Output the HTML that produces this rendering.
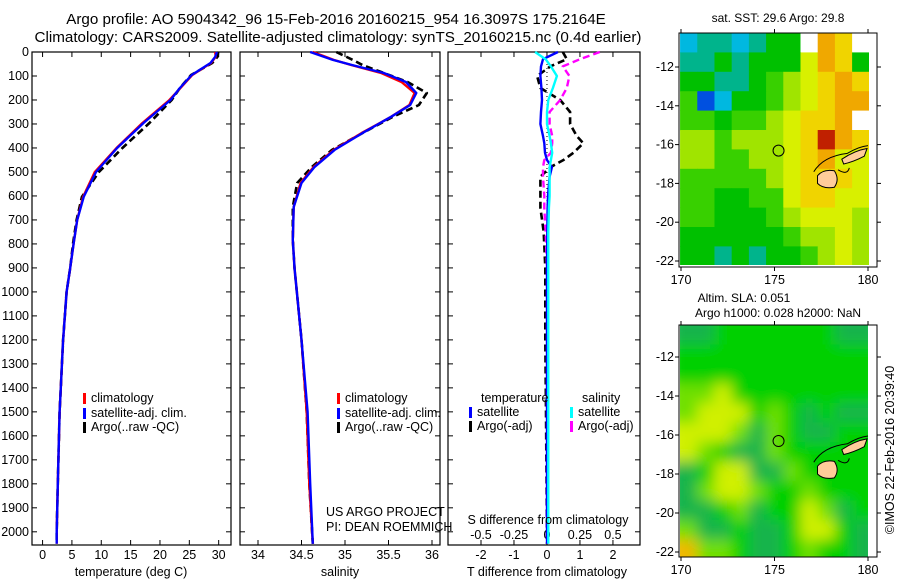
<!DOCTYPE html>
<html><head><meta charset="utf-8">
<style>
html,body{margin:0;padding:0;background:#fff;}
svg{display:block;font-family:"Liberation Sans",sans-serif;}
text{font-size:12.5px;fill:#000;}
.ttl{font-size:15.2px;}
</style></head>
<body>
<svg id="chart" width="900" height="580" viewBox="0 0 900 580">
<defs>
<clipPath id="clipTop"><rect x="680" y="33" width="189" height="232"/></clipPath>
<clipPath id="clipBot"><rect x="680" y="325" width="188" height="232"/></clipPath>
<filter id="blur" x="-10%" y="-10%" width="120%" height="120%"><feGaussianBlur stdDeviation="7"/></filter>
</defs>
<text class="ttl" x="336" y="24" text-anchor="middle">Argo profile: AO 5904342_96 15-Feb-2016 20160215_954 16.3097S 175.2164E</text>
<text class="ttl" x="338" y="42" text-anchor="middle">Climatology: CARS2009. Satellite-adjusted climatology: synTS_20160215.nc (0.4d earlier)</text>
<g id="g"></g>
</svg>
<script>
// ---- data ----
const tDepth = [0,20,46,96,150,200,296,400,500,604,700,796,900,1000,1200,1400,1500,1800,2000,2050];
const tempClim = [29.4,29.5,28.7,25.5,23.5,21.6,17,12.6,8.9,6.9,5.9,5.3,4.7,4.1,3.5,3.1,2.9,2.6,2.4,2.4];
const tempSat  = [29.7,29.4,28.6,25.4,23.4,21.8,17.2,12.7,9.1,7.0,5.9,5.3,4.7,4.1,3.5,3.1,2.9,2.6,2.4,2.4];
const tempArgo = [29.9,29.8,28.9,25.3,23.4,22.0,18.2,13.6,9.6,6.7,5.8,5.2,4.7,4.1,3.5,3.1,2.9,2.6,2.4,2.4];
const sDepth = [0,33,54,88,125,171,221,270,338,408,479,546,646,783,900,1200,1500,1800,2050];
const salClim = [34.63,34.87,35.07,35.42,35.65,35.80,35.74,35.53,35.19,34.87,34.64,34.49,34.41,34.40,34.42,34.50,34.56,34.59,34.63];
const salSat  = [34.60,34.86,35.08,35.45,35.70,35.82,35.75,35.53,35.20,34.88,34.65,34.50,34.41,34.40,34.42,34.50,34.57,34.60,34.63];
const salArgo = [34.90,35.09,35.20,35.45,35.72,35.94,35.85,35.55,35.20,34.85,34.62,34.45,34.40,34.40,34.42,34.50,34.56,34.59,34.63];
const dDepth = [0,30,60,100,150,200,250,300,350,380,420,450,480,520,600,650,750,900,1200,1500,2050];
const tSatDiff  = [0.33,-0.12,-0.18,-0.2,-0.17,-0.15,-0.18,-0.2,-0.12,-0.08,-0.06,0,0.15,0.08,0.03,0.02,0.01,0,0,0,0];
const tArgoDiff = [0.48,0.6,0.1,-0.3,-0.2,0.4,0.7,0.7,0.9,1.1,0.8,0.5,0.1,-0.2,-0.2,-0.2,-0.1,-0.05,-0.05,-0.03,0];
const sSatDiff  = [-0.09,-0.01,0.03,0.075,0.045,0.01,0,0,0.02,0.03,0.04,0.03,0.02,0.02,0.02,0.015,0.01,0.01,0.01,0.01,0.01];
const sArgoDiff = [0.40,0.25,0.12,0.17,0.15,0.1,0.02,0.02,0.04,0.04,0.03,-0.02,-0.03,-0.03,-0.02,-0.02,-0.01,0,0,0,0];
const depthTicks = [0,100,200,300,400,500,600,700,800,900,1000,1100,1200,1300,1400,1500,1600,1700,1800,1900,2000];
const tempTicks = [0,5,10,15,20,25,30];
const salTicks = [34,34.5,35,35.5,36];
const tDiffTicks = [-2,-1,0,1,2];
const sDiffTicks = [-0.5,-0.25,0,0.25,0.5];
const sstRows = ["2332344w98w","33434447984","44334567898","51244567899","5545567889w","66566678a98","66556678977","55555678887","55445578877","55444567776","44444456676","44343445676"];
const slaRows = ["ddgggggggdd","ggggggggggg","ggggggggggg","llygggggggg","lyyyglgdgdd","yyyldlgddgg","ylgddlggggg","dgyyddlgggg","dlyylgglggg","ddgldggyldg","lddgddgyygd","ollgddglggd"];
const latTicks = [-12,-14,-16,-18,-20,-22];
const lonTicks = [170,175,180];
const argoLon = 175.2164, argoLat = -16.3097;

const NS="http://www.w3.org/2000/svg";
const G=document.getElementById('g');
function mk(tag,attrs,parent){const e=document.createElementNS(NS,tag);for(const k in attrs)e.setAttribute(k,attrs[k]);(parent||G).appendChild(e);return e;}
function txt(x,y,s,anchor,parent){const e=mk('text',{x:x,y:y,'text-anchor':anchor||'start'},parent);e.textContent=s;return e;}

const yTop=52, yBot=545, dMax=2055;
const yD=d=>yTop+d/dMax*(yBot-yTop);

function panel(name,x0,x1,xmin,xmax,ticks,fmt){
  const xs=v=>x0+(v-xmin)/(xmax-xmin)*(x1-x0);
  const r=mk('rect',{x:x0,y:yTop,width:x1-x0,height:yBot-yTop,fill:'none',stroke:'#000','stroke-width':1.2});
  
  
  depthTicks.forEach(d=>{const y=yD(d);
    mk('line',{x1:x0,x2:x0+5,y1:y,y2:y,stroke:'#000'});
    mk('line',{x1:x1-5,x2:x1,y1:y,y2:y,stroke:'#000'});});
  if(ticks) ticks.forEach(v=>{const x=xs(v);
    mk('line',{x1:x,x2:x,y1:yTop,y2:yTop+5,stroke:'#000'});
    mk('line',{x1:x,x2:x,y1:yBot-5,y2:yBot,stroke:'#000'});
    const t=txt(x,559,fmt(v),'middle');
    
    });
  return xs;
}
function line(xs,vals,depths,color,w,dash,name){
  let p='';vals.forEach((v,i)=>{p+=(i?'L':'M')+xs(v).toFixed(1)+' '+yD(depths[i]).toFixed(1);});
  const a={d:p,fill:'none',stroke:color,'stroke-width':w,'stroke-linejoin':'round'};
  if(dash)a['stroke-dasharray']=dash;
  const e=mk('path',a);
  
  
}
depthTicks.forEach(d=>{const t=txt(29,yD(d)+4,String(d),'end');
  
  });

const xT=panel('temperature-panel',32,231,-1.8,32.1,tempTicks,v=>String(v));
line(xT,tempArgo,tDepth,'#000',2.6,'7 4','temperature-argo-line');
line(xT,tempClim,tDepth,'#f00',2.4,null,'temperature-climatology-line');
line(xT,tempSat,tDepth,'#00f',2.4,null,'temperature-satellite-line');
let t=txt(131,576,'temperature (deg C)','middle');

const xS=panel('salinity-panel',240,440,33.793,36.092,salTicks,v=>String(v));
line(xS,salArgo,sDepth,'#000',2.6,'7 4','salinity-argo-line');
line(xS,salClim,sDepth,'#f00',2.4,null,'salinity-climatology-line');
line(xS,salSat,sDepth,'#00f',2.4,null,'salinity-satellite-line');
t=txt(340,576,'salinity','middle');

const xD=panel('difference-panel',448,640,-3,2.82,tDiffTicks,v=>String(v));
const xSd=v=>xD(v*4);
sDiffTicks.forEach(v=>{const s=txt(xSd(v),539,String(v),'middle');});
mk('line',{x1:xD(0),x2:xD(0),y1:yTop,y2:yBot,stroke:'#000','stroke-dasharray':'1 3'});
line(xD,tArgoDiff,dDepth,'#000',2.6,'7 4','t-diff-argo-line');
line(xSd,sArgoDiff,dDepth,'#f0f',2.4,'7 4','s-diff-argo-line');
line(xD,tSatDiff,dDepth,'#00f',2.4,null,'t-diff-satellite-line');
line(xSd,sSatDiff,dDepth,'#0ff',2.4,null,'s-diff-satellite-line');
t=txt(547,576,'T difference from climatology','middle');
t=txt(548,524,'S difference from climatology','middle');

function leg(x,y,color,label,name){
  const b=mk('rect',{x:x,y:y-9,width:3,height:11,fill:color});
  
  const s=txt(x+8,y,label);
}
leg(83,402,'#f00','climatology','legend-climatology');
leg(83,417,'#00f','satellite-adj. clim.','legend-satellite');
leg(83,431,'#000','Argo(..raw -QC)','legend-argo');
leg(337,402,'#f00','climatology','legend-climatology-s');
leg(337,417,'#00f','satellite-adj. clim.','legend-satellite-s');
leg(337,431,'#000','Argo(..raw -QC)','legend-argo-s');
t=txt(481,402,'temperature');
t=txt(582,402,'salinity');
leg(469,416,'#00f','satellite','legend-t-satellite');
leg(469,430,'#000','Argo(-adj)','legend-t-argo');
leg(570,416,'#0ff','satellite','legend-s-satellite');
leg(570,430,'#f0f','Argo(-adj)','legend-s-argo');
t=txt(326,516,'US ARGO PROJECT');
t=txt(326,531,'PI: DEAN ROEMMICH');

const sstCol={'0':'#0000a0','1':'#0050e0','2':'#00b8e0','3':'#00b48c','4':'#00c000','5':'#38d000','6':'#a0e400','7':'#d8f000','8':'#f0d400','9':'#f0a800','a':'#c02000','w':'#ffffff'};
const slaCol={'d':'#14b44c','g':'#00d000','l':'#70e000','y':'#d0f000','o':'#f0b800'};
function map(name,x0,x1,yT,yB,yAt12,yAt22,rows,cols,clip,blur,titleLines){
  const lx=lon=>681+(lon-170)*18.7;
  const ly=lat=>yAt12+(lat+12)/(-10)*(yAt22-yAt12);
  const gg=mk('g',{'clip-path':'url(#'+clip+')'});
  
  const inner=mk('g',blur?{filter:'url(#blur)'}:{},gg);
  const latTop=-12+(yT-yAt12)/(yAt22-yAt12)*(-10);
  rows.forEach((row,r)=>{[...row].forEach((c,k)=>{
    const lat0=latTop-r, lon0=170-0.05+k*0.92;
    const pad=blur?12:0;
    const xx=lx(lon0)-(k==0?pad:0), yy=ly(lat0)-(r==0?pad:0);
    const ww=lx(lon0+0.92)-lx(lon0)+(k==0?pad:0)+(k==row.length-1?pad:0)+0.5;
    const hh=ly(lat0-1)-ly(lat0)+(r==0?pad:0)+(r==rows.length-1?pad:0)+0.5;
    const cell=mk('rect',{x:xx,y:yy,width:ww,height:hh,fill:cols[c]},inner);
    
    
  });});
  const isl=mk('path',{d:`M${lx(177.3)} ${ly(-17.6)} Q${lx(177.6)} ${ly(-17.25)} ${lx(178.2)} ${ly(-17.35)} Q${lx(178.5)} ${ly(-17.8)} ${lx(178.2)} ${ly(-18.2)} Q${lx(177.6)} ${ly(-18.3)} ${lx(177.3)} ${ly(-18.0)} Z M${lx(178.6)} ${ly(-16.75)} Q${lx(179.3)} ${ly(-16.3)} ${lx(179.95)} ${ly(-16.2)} L${lx(179.8)} ${ly(-16.6)} Q${lx(179.2)} ${ly(-16.9)} ${lx(178.7)} ${ly(-17.0)} Z`,fill:'#ffcc99',stroke:'#000','stroke-width':1});
  
  const reef=mk('path',{d:`M${lx(177.1)} ${ly(-17.4)} Q${lx(177.6)} ${ly(-16.6)} ${lx(178.9)} ${ly(-16.45)} Q${lx(179.5)} ${ly(-16.1)} ${lx(180)} ${ly(-16.05)} M${lx(178.4)} ${ly(-17.3)} Q${lx(178.9)} ${ly(-17.6)} ${lx(179.0)} ${ly(-17.2)}`,fill:'none',stroke:'#000','stroke-width':1});
  
  const c=mk('circle',{cx:lx(argoLon),cy:ly(argoLat),r:5.5,fill:'none',stroke:'#000','stroke-width':1});
  
  const fr=mk('rect',{x:x0,y:yT,width:x1-x0,height:yB-yT,fill:'none',stroke:'#000','stroke-width':1});
  
  latTicks.forEach(v=>{const y=ly(v);
    mk('line',{x1:x0-4,x2:x0,y1:y,y2:y,stroke:'#000'});mk('line',{x1:x1,x2:x1+4,y1:y,y2:y,stroke:'#000'});
    const s=txt(x0-5,y+4,String(v),'end');});
  lonTicks.forEach(v=>{const x=lx(v);
    mk('line',{x1:x,x2:x,y1:yT-4,y2:yT,stroke:'#000'});mk('line',{x1:x,x2:x,y1:yB,y2:yB+4,stroke:'#000'});
    const s=txt(x,yB+17,String(v),'middle');});
  titleLines.forEach((l,i)=>{const s=txt(l[1],l[2],l[0],'middle');s.style.fontSize='12px';});
}
map('sst-map',679,877,33,267,67,261,sstRows,sstCol,'clipTop',false,[['sat. SST: 29.6 Argo: 29.8',778,22]]);
map('sla-map',679,877,325,557,357,552,slaRows,slaCol,'clipBot',true,[['Altim. SLA: 0.051',744,302],['Argo h1000: 0.028 h2000: NaN',778,317]]);
t=txt(0,0,'©IMOS 22-Feb-2016 20:39:40','middle');
t.setAttribute('transform','translate(894,450) rotate(-90)');

</script>
</body></html>
